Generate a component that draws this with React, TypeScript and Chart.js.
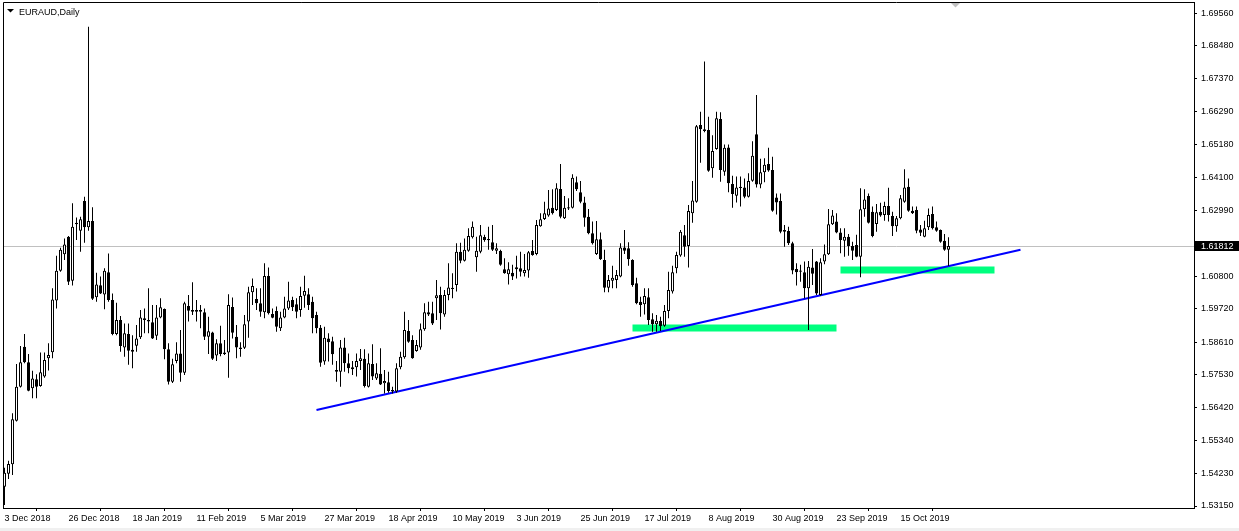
import React, { useEffect, useRef } from "react";
import { Chart, registerables } from "chart.js";

Chart.register(...registerables);

const chartTitle = "EURAUD,Daily";

const dateLabels = [
  "3 Dec 2018", "26 Dec 2018", "18 Jan 2019", "11 Feb 2019", "5 Mar 2019",
  "27 Mar 2019", "18 Apr 2019", "10 May 2019", "3 Jun 2019", "25 Jun 2019",
  "17 Jul 2019", "8 Aug 2019", "30 Aug 2019", "23 Sep 2019", "15 Oct 2019",
];
const dateTickBars = [0, 16, 32, 48, 64, 80, 96, 112, 128, 144, 160, 176, 192, 208, 224];

const priceTicks = [
  1.6956, 1.6848, 1.6737, 1.6629, 1.6518, 1.641, 1.6299, 1.608,
  1.5972, 1.5861, 1.5753, 1.5642, 1.5534, 1.5423, 1.5315,
];
const currentPrice = 1.61812;

const opens = [
  1.5379,1.5422,1.5454,1.5599,1.5712,1.5845,1.5794,1.5707,1.5737,1.5715,
  1.5746,1.5807,1.5827,1.5999,1.6098,1.6153,1.6212,1.6065,1.6258,1.6232,
  1.6331,1.6243,1.6264,1.6010,1.6050,1.6019,1.6093,1.6001,1.5888,1.5934,
  1.5843,1.5888,1.5835,1.5849,1.5877,1.5940,1.5934,1.5927,1.5882,1.5943,
  1.5971,1.5837,1.5729,1.5798,1.5823,1.5759,1.5981,1.5968,1.5968,1.5968,
  1.5960,1.5879,1.5893,1.5816,1.5857,1.5826,1.5826,1.5978,1.5879,1.5843,
  1.5842,1.5929,1.6027,1.6004,1.5990,1.5960,1.6081,1.5954,1.5964,1.5907,
  1.5943,1.5973,1.6001,1.5987,1.5968,1.6015,1.6020,1.5995,1.5951,1.5909,
  1.5796,1.5873,1.5864,1.5768,1.5762,1.5843,1.5790,1.5770,1.5777,1.5798,
  1.5805,1.5712,1.5788,1.5740,1.5755,1.5724,1.5727,1.5701,1.5696,1.5777,
  1.5810,1.5898,1.5868,1.5831,1.5843,1.5904,1.5960,1.5957,1.6007,1.6018,
  1.5953,1.6018,1.6042,1.6051,1.6162,1.6132,1.6165,1.6210,1.6143,1.6162,
  1.6211,1.6204,1.6193,1.6165,1.6164,1.6103,1.6087,1.6092,1.6103,1.6107,
  1.6090,1.6099,1.6164,1.6154,1.6247,1.6271,1.6282,1.6308,1.6301,1.6371,
  1.6273,1.6310,1.6308,1.6393,1.6360,1.6326,1.6278,1.6223,1.6154,1.6203,
  1.6134,1.6042,1.6065,1.6068,1.6079,1.6176,1.6173,1.6134,1.6057,1.5995,
  1.5987,1.6010,1.5937,1.5920,1.5931,1.5915,1.5964,1.6029,1.6107,1.6149,
  1.6217,1.6181,1.6290,1.6328,1.6584,1.6570,1.6567,1.6440,1.6504,1.6604,
  1.6428,1.6509,1.6387,1.6348,1.6378,1.6376,1.6345,1.6398,1.6553,1.6386,
  1.6426,1.6454,1.6434,1.6342,1.6331,1.6234,1.6231,1.6190,1.6104,1.6099,
  1.6093,1.6040,1.6109,1.6129,1.6018,1.6129,1.6153,1.6253,1.6262,1.6226,
  1.6198,1.6212,1.6181,1.6184,1.6145,1.6303,1.6347,1.6295,1.6254,1.6295,
  1.6284,1.6314,1.6281,1.6247,1.6273,1.6328,1.6378,1.6298,1.6301,1.6236,
  1.6212,1.6243,1.6287,1.6243,1.6234,1.6198,1.6168,
];

const highs = [
  1.5442,1.5466,1.5624,1.5788,1.5848,1.5888,1.5821,1.5765,1.5754,1.5826,
  1.5826,1.5857,1.6040,1.6148,1.6175,1.6206,1.6214,1.6323,1.6276,1.6278,
  1.6345,1.6911,1.6310,1.6092,1.6079,1.6107,1.6156,1.6023,1.5992,1.5948,
  1.5923,1.5923,1.5884,1.5918,1.5968,1.5973,1.6040,1.5984,1.5984,1.6007,
  1.5973,1.5857,1.5805,1.5860,1.5901,1.5995,1.6018,1.6060,1.6001,1.5984,
  1.5973,1.5945,1.5895,1.5870,1.5915,1.5868,1.6020,1.6009,1.5918,1.5860,
  1.5951,1.6045,1.6073,1.6040,1.6040,1.6123,1.6109,1.5973,1.5979,1.5962,
  1.6012,1.6062,1.6012,1.6007,1.6045,1.6082,1.6040,1.6012,1.5962,1.5918,
  1.5912,1.5890,1.5879,1.5798,1.5868,1.5875,1.5823,1.5798,1.5823,1.5838,
  1.5837,1.5823,1.5854,1.5790,1.5840,1.5768,1.5762,1.5712,1.5790,1.5829,
  1.5962,1.5934,1.5884,1.5868,1.5923,1.5990,1.5995,1.5995,1.6068,1.6045,
  1.6034,1.6123,1.6090,1.6190,1.6192,1.6206,1.6240,1.6262,1.6212,1.6251,
  1.6218,1.6245,1.6251,1.6190,1.6168,1.6140,1.6127,1.6118,1.6148,1.6162,
  1.6154,1.6164,1.6201,1.6267,1.6290,1.6328,1.6367,1.6370,1.6390,1.6454,
  1.6347,1.6340,1.6420,1.6412,1.6397,1.6345,1.6304,1.6262,1.6264,1.6226,
  1.6168,1.6084,1.6115,1.6101,1.6190,1.6234,1.6193,1.6137,1.6075,1.6012,
  1.6040,1.6040,1.5957,1.5951,1.5945,1.5984,1.6095,1.6115,1.6162,1.6234,
  1.6251,1.6317,1.6397,1.6584,1.6628,1.6795,1.6611,1.6550,1.6628,1.6626,
  1.6519,1.6519,1.6415,1.6412,1.6412,1.6406,1.6423,1.6530,1.6684,1.6471,
  1.6473,1.6508,1.6478,1.6356,1.6356,1.6251,1.6245,1.6195,1.6123,1.6118,
  1.6129,1.6131,1.6171,1.6131,1.6140,1.6186,1.6304,1.6301,1.6290,1.6240,
  1.6240,1.6221,1.6195,1.6218,1.6373,1.6370,1.6356,1.6312,1.6321,1.6325,
  1.6328,1.6375,1.6295,1.6281,1.6351,1.6436,1.6406,1.6312,1.6312,1.6251,
  1.6265,1.6306,1.6312,1.6262,1.6236,1.6221,1.6210,
];

const lows = [
  1.5318,1.5405,1.5418,1.5596,1.5710,1.5790,1.5697,1.5674,1.5674,1.5712,
  1.5742,1.5766,1.5807,1.5973,1.6095,1.6134,1.6051,1.6049,1.6201,1.6162,
  1.6192,1.6232,1.6001,1.5995,1.6021,1.5970,1.5995,1.5884,1.5884,1.5829,
  1.5812,1.5785,1.5774,1.5829,1.5871,1.5890,1.5890,1.5871,1.5868,1.5940,
  1.5804,1.5720,1.5725,1.5790,1.5729,1.5751,1.5929,1.5951,1.5929,1.5907,
  1.5868,1.5821,1.5801,1.5798,1.5814,1.5818,1.5742,1.5873,1.5807,1.5812,
  1.5838,1.5875,1.5984,1.5968,1.5945,1.5940,1.5953,1.5940,1.5895,1.5898,
  1.5940,1.5968,1.5964,1.5940,1.5945,1.5975,1.5968,1.5890,1.5890,1.5779,
  1.5785,1.5796,1.5785,1.5729,1.5712,1.5762,1.5757,1.5751,1.5746,1.5768,
  1.5710,1.5710,1.5735,1.5735,1.5718,1.5690,1.5692,1.5690,1.5692,1.5770,
  1.5805,1.5859,1.5805,1.5829,1.5835,1.5899,1.5948,1.5918,1.5934,1.5903,
  1.5945,1.6000,1.6007,1.6029,1.6123,1.6129,1.6162,1.6206,1.6095,1.6157,
  1.6195,1.6168,1.6164,1.6154,1.6115,1.6088,1.6053,1.6068,1.6073,1.6079,
  1.6079,1.6075,1.6148,1.6150,1.6245,1.6267,1.6278,1.6286,1.6297,1.6273,
  1.6271,1.6301,1.6306,1.6364,1.6323,1.6245,1.6220,1.6186,1.6151,1.6134,
  1.6027,1.6027,1.6040,1.6040,1.6077,1.6154,1.6115,1.6045,1.5987,1.5945,
  1.5953,1.5918,1.5895,1.5895,1.5898,1.5912,1.5940,1.6023,1.6090,1.6145,
  1.6145,1.6109,1.6258,1.6325,1.6458,1.6560,1.6428,1.6408,1.6501,1.6395,
  1.6415,1.6360,1.6308,1.6326,1.6312,1.6340,1.6342,1.6395,1.6376,1.6373,
  1.6393,1.6428,1.6295,1.6286,1.6223,1.6178,1.6184,1.6087,1.6049,1.6062,
  1.6007,1.5901,1.6051,1.6018,1.6015,1.6120,1.6151,1.6251,1.6223,1.6157,
  1.6145,1.6148,1.6134,1.6143,1.6077,1.6278,1.6256,1.6210,1.6228,1.6278,
  1.6265,1.6262,1.6214,1.6228,1.6270,1.6325,1.6295,1.6287,1.6223,1.6214,
  1.6210,1.6234,1.6236,1.6228,1.6192,1.6165,1.6114,
];

const closes = [
  1.5426,1.5455,1.5604,1.5712,1.5794,1.5794,1.5699,1.5740,1.5712,1.5760,
  1.5801,1.5818,1.6003,1.6098,1.6168,1.6186,1.6062,1.6245,1.6253,1.6270,
  1.6243,1.6264,1.6005,1.6053,1.6023,1.6098,1.6001,1.5888,1.5934,1.5848,
  1.5890,1.5832,1.5829,1.5873,1.5943,1.5934,1.5929,1.5873,1.5943,1.5977,
  1.5837,1.5729,1.5787,1.5823,1.5759,1.5990,1.5965,1.5962,1.5962,1.5962,
  1.5879,1.5897,1.5805,1.5857,1.5821,1.5821,1.5984,1.5892,1.5843,1.5838,
  1.5920,1.6027,1.6048,1.5990,1.5962,1.6081,1.5957,1.5942,1.5912,1.5943,
  1.5973,1.5999,1.5977,1.5962,1.6014,1.6031,1.5984,1.5940,1.5907,1.5792,
  1.5875,1.5860,1.5820,1.5762,1.5843,1.5790,1.5774,1.5777,1.5798,1.5807,
  1.5715,1.5790,1.5746,1.5757,1.5720,1.5731,1.5698,1.5696,1.5774,1.5812,
  1.5901,1.5862,1.5807,1.5851,1.5904,1.5960,1.5953,1.5923,1.6017,1.5957,
  1.6018,1.6043,1.6038,1.6162,1.6132,1.6168,1.6214,1.6245,1.6165,1.6217,
  1.6201,1.6200,1.6168,1.6173,1.6118,1.6090,1.6103,1.6079,1.6110,1.6095,
  1.6101,1.6160,1.6151,1.6251,1.6270,1.6290,1.6306,1.6290,1.6373,1.6278,
  1.6308,1.6306,1.6408,1.6370,1.6328,1.6275,1.6223,1.6190,1.6203,1.6137,
  1.6042,1.6068,1.6075,1.6084,1.6176,1.6165,1.6137,1.6051,1.5990,1.5984,
  1.6014,1.5934,1.5920,1.5932,1.5914,1.5964,1.6034,1.6093,1.6151,1.6228,
  1.6178,1.6297,1.6332,1.6580,1.6570,1.6564,1.6431,1.6497,1.6606,1.6434,
  1.6508,1.6390,1.6354,1.6376,1.6374,1.6345,1.6397,1.6481,1.6386,1.6426,
  1.6451,1.6432,1.6298,1.6326,1.6228,1.6228,1.6190,1.6099,1.6093,1.6095,
  1.6040,1.6112,1.6088,1.6023,1.6127,1.6153,1.6253,1.6282,1.6226,1.6201,
  1.6212,1.6181,1.6165,1.6145,1.6303,1.6336,1.6258,1.6214,1.6293,1.6282,
  1.6314,1.6284,1.6247,1.6273,1.6340,1.6376,1.6298,1.6290,1.6232,1.6225,
  1.6240,1.6284,1.6240,1.6232,1.6195,1.6168,1.6181,
];

// Trend line and support zones (bar index, price)
const trendBars = [78, 254];
const trendPrices = [1.5635, 1.6168];
const zoneLowBars = [157, 208];
const zoneLowPrice = 1.5908;
const zoneHighBars = [209, 247.5];
const zoneHighPrice = 1.6101;

const X_MIN = -0.375;
const X_MAX = 297.375;
const Y_MIN = 1.530836;
const Y_MAX = 1.699334;

const FONT = "'Liberation Sans', Arial, sans-serif";
const FONT_SIZE = 9;

const decorPlugin = {
  id: "mt4decor",
  beforeDatasetsDraw(chart: any) {
    const { ctx, chartArea } = chart;
    const y = Math.round(chart.scales.y.getPixelForValue(currentPrice)) + 0.5;
    ctx.save();
    ctx.strokeStyle = "#C0C0C0";
    ctx.lineWidth = 1;
    ctx.beginPath();
    ctx.moveTo(chartArea.left, y);
    ctx.lineTo(chartArea.right, y);
    ctx.stroke();
    ctx.restore();
  },
  afterDraw(chart: any) {
    const { ctx, chartArea } = chart;
    ctx.save();
    // frame left & top
    ctx.strokeStyle = "#000";
    ctx.lineWidth = 1;
    ctx.beginPath();
    ctx.moveTo(chartArea.left + 0.5, chartArea.bottom);
    ctx.lineTo(chartArea.left + 0.5, chartArea.top + 0.5);
    ctx.lineTo(chartArea.right, chartArea.top + 0.5);
    ctx.stroke();
    // title
    ctx.fillStyle = "#000";
    ctx.beginPath();
    ctx.moveTo(7, 9);
    ctx.lineTo(14, 9);
    ctx.lineTo(10.5, 12.5);
    ctx.closePath();
    ctx.fill();
    ctx.font = `${FONT_SIZE}px ${FONT}`;
    ctx.textBaseline = "alphabetic";
    ctx.textAlign = "left";
    ctx.fillText(chartTitle, 19, 14.5);
    // shift marker
    ctx.fillStyle = "#C0C0C0";
    ctx.beginPath();
    ctx.moveTo(951, 3);
    ctx.lineTo(960, 3);
    ctx.lineTo(955.5, 7.5);
    ctx.closePath();
    ctx.fill();
    // current price label
    const y = Math.round(chart.scales.y.getPixelForValue(currentPrice));
    ctx.fillStyle = "#000";
    ctx.fillRect(chartArea.right + 1, y - 5, 45, 10);
    ctx.fillStyle = "#fff";
    ctx.textBaseline = "middle";
    ctx.fillText(currentPrice.toFixed(5), chartArea.right + 7, y + 0.5);
    ctx.restore();
  },
};

export default function App() {
  const ref = useRef<HTMLCanvasElement>(null);
  useEffect(() => {
    document.body.style.margin = "0";
    const bodies = opens.map((o, i) => ({ x: i, y: [o, closes[i]] }));
    const wicks = opens.map((_, i) => ({ x: i, y: [lows[i], highs[i]] }));
    const bodyColors = opens.map((o, i) => (closes[i] >= o ? "#FFFFFF" : "#000000"));
    const chart = new Chart(ref.current as HTMLCanvasElement, {
      type: "bar",
      data: {
        datasets: [
          {
            type: "bar",
            data: bodies as any,
            backgroundColor: bodyColors,
            borderColor: "#000000",
            borderWidth: 1,
            borderSkipped: false,
            barThickness: 3,
            grouped: false,
            inflateAmount: 0,
            order: 1,
          } as any,
          {
            type: "bar",
            data: wicks as any,
            backgroundColor: "#000000",
            borderWidth: 0,
            barThickness: 1,
            grouped: false,
            inflateAmount: 0,
            order: 2,
          } as any,
          {
            type: "line",
            data: trendBars.map((b, k) => ({ x: b, y: trendPrices[k] })),
            borderColor: "#0000FF",
            borderWidth: 2,
            pointRadius: 0,
            order: 3,
          } as any,
          {
            type: "line",
            data: zoneLowBars.map((b) => ({ x: b, y: zoneLowPrice })),
            borderColor: "#00FF7F",
            borderWidth: 7,
            borderCapStyle: "butt",
            pointRadius: 0,
            order: 4,
          } as any,
          {
            type: "line",
            data: zoneHighBars.map((b) => ({ x: b, y: zoneHighPrice })),
            borderColor: "#00FF7F",
            borderWidth: 7,
            borderCapStyle: "butt",
            pointRadius: 0,
            order: 4,
          } as any,
        ],
      },
      options: {
        animation: false,
        responsive: false,
        devicePixelRatio: 1,
        events: [],
        layout: { padding: { left: 3, top: 2, right: 0, bottom: 0 } },
        plugins: { legend: { display: false }, tooltip: { enabled: false } },
        scales: {
          x: {
            type: "linear",
            position: "bottom",
            min: X_MIN,
            max: X_MAX,
            offset: false,
            afterBuildTicks: (axis: any) => {
              axis.ticks = dateTickBars.map((v) => ({ value: v }));
            },
            afterFit: (axis: any) => {
              axis.height = 20;
              axis.paddingLeft = 0;
              axis.paddingRight = 0;
            },
            ticks: {
              autoSkip: false,
              maxRotation: 0,
              minRotation: 0,
              align: "start",
              padding: 2,
              color: "#000",
              font: { family: FONT, size: FONT_SIZE },
              callback: (_v: any, idx: number) => dateLabels[idx],
            },
            grid: { drawOnChartArea: false, drawTicks: true, tickLength: 3, color: "#000" },
            border: { display: true, color: "#000", width: 1 },
          },
          y: {
            type: "linear",
            position: "right",
            min: Y_MIN,
            max: Y_MAX,
            afterBuildTicks: (axis: any) => {
              axis.ticks = priceTicks.map((v) => ({ value: v }));
            },
            afterFit: (axis: any) => {
              axis.width = 45;
              axis.paddingTop = 0;
              axis.paddingBottom = 0;
            },
            ticks: {
              autoSkip: false,
              padding: 4,
              color: "#000",
              font: { family: FONT, size: FONT_SIZE },
              callback: (v: any) => Number(v).toFixed(5),
            },
            grid: { drawOnChartArea: false, drawTicks: true, tickLength: 3, color: "#000" },
            border: { display: true, color: "#000", width: 1 },
          },
        },
      } as any,
      plugins: [decorPlugin],
    });
    return () => chart.destroy();
  }, []);
  return (
    <div style={{ position: "absolute", left: 0, top: 0, width: 1239, height: 531, background: "#F0F0F0" }}>
      <canvas
        ref={ref}
        width={1239}
        height={528}
        style={{ display: "block", width: 1239, height: 528, background: "#FFFFFF" }}
      />
    </div>
  );
}
